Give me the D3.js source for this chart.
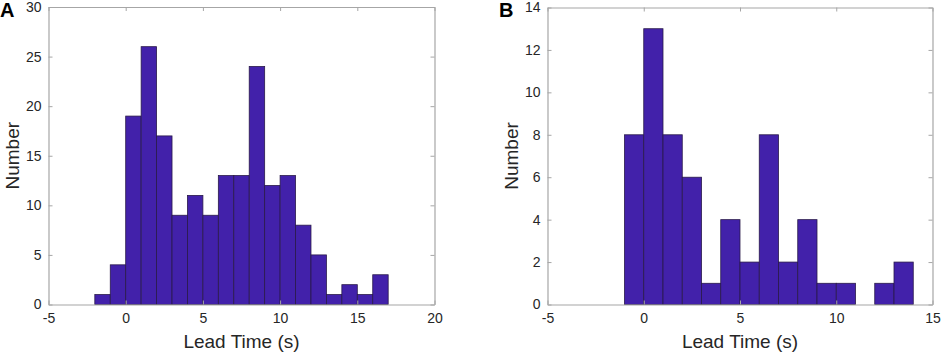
<!DOCTYPE html>
<html>
<head>
<meta charset="utf-8">
<script src="https://cdn.jsdelivr.net/npm/d3@7"></script>
<style>
  html, body { margin: 0; padding: 0; background: #fff; }
  svg { display: block; }
  text { font-family: Arial, "Liberation Sans", sans-serif; fill: #262626; }
</style>
</head>
<body>
<svg id="chart" width="941" height="353"></svg>
<script>
// Panel A: histogram bins (left edges, width 1 s) and counts
const binStartsA = [-2, -1, 0, 1, 2, 3, 4, 5, 6, 7, 8, 9, 10, 11, 12, 13, 14, 15, 16];
const countsA    = [ 1,  4, 19, 26, 17, 9, 11, 9, 13, 13, 24, 12, 13, 8, 5, 1, 2, 1, 3];
const xTicksA = [-5, 0, 5, 10, 15, 20];
const yTicksA = [0, 5, 10, 15, 20, 25, 30];

// Panel B
const binStartsB = [-1, 0, 1, 2, 3, 4, 5, 6, 7, 8, 9, 10, 11, 12, 13];
const countsB    = [ 8, 13, 8, 6, 1, 4, 2, 8, 2, 4, 1, 1, 0, 1, 2];
const xTicksB = [-5, 0, 5, 10, 15];
const yTicksB = [0, 2, 4, 6, 8, 10, 12, 14];

const binWidth = 1;
const barFill = "#4221aa";
const barStroke = "#2a1a4a";
const axisColor = "#a6a6a6";

const svg = d3.select("#chart");
const fmt = d => String(d);

function panel(cfg) {
  const g = svg.append("g");
  const x = d3.scaleLinear().domain(cfg.xDomain).range([cfg.left, cfg.right]);
  const y = d3.scaleLinear().domain(cfg.yDomain).range([cfg.bottom, cfg.top]);

  // bars
  g.selectAll("rect.bar")
    .data(cfg.starts.map((s, i) => ({ s, c: cfg.counts[i] })).filter(d => d.c > 0))
    .join("rect")
    .attr("class", "bar")
    .attr("x", d => x(d.s))
    .attr("width", d => x(d.s + binWidth) - x(d.s))
    .attr("y", d => y(d.c))
    .attr("height", d => y(0) - y(d.c))
    .attr("fill", barFill)
    .attr("stroke", barStroke)
    .attr("stroke-width", 0.8);

  const tickLen = 4;
  const axB = d3.axisBottom(x).tickValues(cfg.xTicks).tickSizeInner(-tickLen).tickSizeOuter(0).tickPadding(9).tickFormat(fmt);
  const axT = d3.axisTop(x).tickValues(cfg.xTicks).tickSizeInner(-tickLen).tickSizeOuter(0).tickFormat("");
  const axL = d3.axisLeft(y).tickValues(cfg.yTicks).tickSizeInner(-tickLen).tickSizeOuter(0).tickPadding(7).tickFormat(fmt);
  const axR = d3.axisRight(y).tickValues(cfg.yTicks).tickSizeInner(-tickLen).tickSizeOuter(0).tickFormat("");

  function style(sel) {
    sel.selectAll("path.domain").attr("stroke", axisColor).attr("stroke-width", 1.2);
    sel.selectAll(".tick line").attr("stroke", axisColor).attr("stroke-width", 1);
    sel.selectAll(".tick text").attr("font-size", "14px").attr("fill", "#262626")
       .attr("font-family", "Arial, 'Liberation Sans', sans-serif");
  }
  style(g.append("g").attr("transform", `translate(0,${cfg.bottom})`).call(axB));
  style(g.append("g").attr("transform", `translate(0,${cfg.top})`).call(axT));
  style(g.append("g").attr("transform", `translate(${cfg.left},0)`).call(axL));
  style(g.append("g").attr("transform", `translate(${cfg.right},0)`).call(axR));

  // axis titles
  g.append("text")
    .attr("x", (cfg.left + cfg.right) / 2)
    .attr("y", 348)
    .attr("text-anchor", "middle")
    .attr("font-size", "19px")
    .text("Lead Time (s)");
  g.append("text")
    .attr("transform", `translate(${cfg.ylabX},${(cfg.top + cfg.bottom) / 2}) rotate(-90)`)
    .attr("text-anchor", "middle")
    .attr("font-size", "19px")
    .text("Number");
  // panel letter
  g.append("text")
    .attr("x", cfg.letterX)
    .attr("y", 17)
    .attr("font-size", "20px")
    .attr("font-weight", "bold")
    .style("fill", "#000")
    .text(cfg.letter);
}

panel({
  starts: binStartsA, counts: countsA, xTicks: xTicksA, yTicks: yTicksA,
  xDomain: [-5, 20], yDomain: [0, 30],
  left: 48.5, right: 434.5, top: 7, bottom: 304.5,
  ylabX: 19, letter: "A", letterX: 0
});
panel({
  starts: binStartsB, counts: countsB, xTicks: xTicksB, yTicks: yTicksB,
  xDomain: [-5, 15], yDomain: [0, 14],
  left: 547.5, right: 932.5, top: 7.5, bottom: 304.5,
  ylabX: 518, letter: "B", letterX: 499
});
</script>
</body>
</html>
